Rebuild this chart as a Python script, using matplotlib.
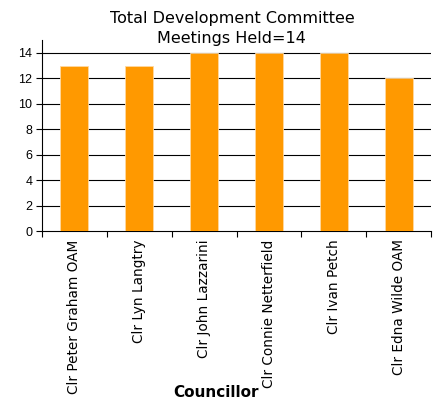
import numpy as np
import matplotlib.pyplot as plt

councillors = ["Clr Peter Graham OAM", "Clr Lyn Langtry", "Clr John Lazzarini",
               "Clr Connie Netterfield", "Clr Ivan Petch", "Clr Edna Wilde OAM"]
meetings = [13, 13, 14, 14, 14, 12]
yticks = [0, 2, 4, 6, 8, 10, 12, 14]

plt.rcParams['font.family'] = ['Liberation Sans', 'DejaVu Sans']

fig = plt.figure(figsize=(4.4, 4.05), dpi=100)
ax = fig.add_axes([0.0955, 0.4296, 0.884, 0.4714])

x = np.arange(len(councillors))
ax.bar(x, meetings, width=0.43, color='#FF9900', edgecolor='#FFD9A0',
       linewidth=0.6, zorder=3)

ax.set_xlim(-0.5, len(councillors) - 0.5)
ax.set_ylim(0, 15)
ax.set_yticks(yticks)
ax.tick_params(axis='y', labelsize=9, length=4, width=0.8, pad=3)
for y in yticks[1:]:
    ax.axhline(y, color='black', linewidth=0.8, zorder=1)

# category labels sit between the boundary ticks
ax.set_xticks(np.arange(len(councillors) + 1) - 0.5)
ax.set_xticklabels([])
ax.set_xticks(x, minor=True)
ax.set_xticklabels(councillors, minor=True, rotation=90, fontsize=9.8,
                   family='DejaVu Sans', va='top')
ax.tick_params(axis='x', which='major', length=4, width=0.8)
ax.tick_params(axis='x', which='minor', length=0, pad=6)

for side in ['top', 'right']:
    ax.spines[side].set_visible(False)
ax.spines['left'].set_linewidth(0.8)
ax.spines['bottom'].set_linewidth(0.8)

fig.text(0.527, 0.93, "Total Development Committee\nMeetings Held=14",
         ha='center', va='center', fontsize=11.5, linespacing=1.45,
         family='DejaVu Sans')
fig.text(0.491, 0.03, "Councillor", ha='center', va='center',
         fontsize=11, fontweight='bold', family='DejaVu Sans')

fig.savefig('out.png', dpi=100)
